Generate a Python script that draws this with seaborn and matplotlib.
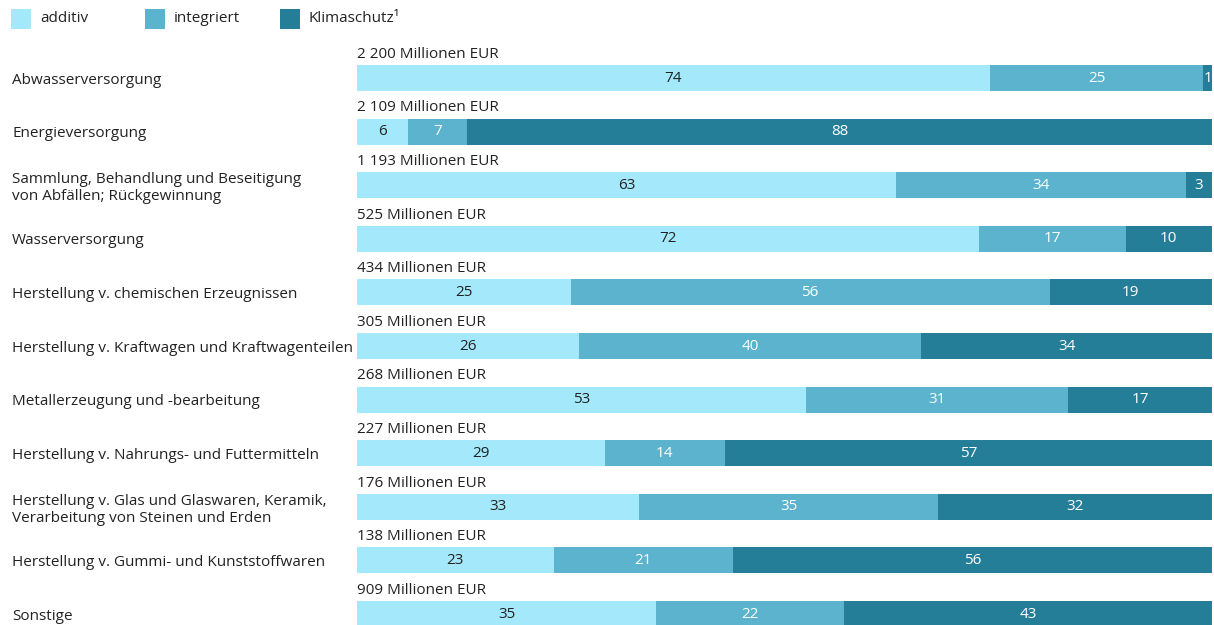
import matplotlib
matplotlib.use("Agg")
import matplotlib.pyplot as plt
import matplotlib.transforms as mtransforms
from matplotlib.patches import Rectangle
import seaborn as sns
import pandas as pd
import numpy as np

categories = [
    "Abwasserversorgung",
    "Energieversorgung",
    "Sammlung, Behandlung und Beseitigung\nvon Abfällen; Rückgewinnung",
    "Wasserversorgung",
    "Herstellung v. chemischen Erzeugnissen",
    "Herstellung v. Kraftwagen und Kraftwagenteilen",
    "Metallerzeugung und -bearbeitung",
    "Herstellung v. Nahrungs- und Futtermitteln",
    "Herstellung v. Glas und Glaswaren, Keramik,\nVerarbeitung von Steinen und Erden",
    "Herstellung v. Gummi- und Kunststoffwaren",
    "Sonstige",
]
additiv = [74, 6, 63, 72, 25, 26, 53, 29, 33, 23, 35]
integriert = [25, 7, 34, 17, 56, 40, 31, 14, 35, 21, 22]
klimaschutz = [1, 88, 3, 10, 19, 34, 17, 57, 32, 56, 43]
totals = ["2 200", "2 109", "1 193", "525", "434", "305", "268", "227", "176", "138", "909"]
series_names = ["additiv", "integriert", "Klimaschutz\u00b9"]

colors = ["#A3E9FB", "#5BB3CE", "#257E98"]
text_dark = "#222222"

sns.set_theme(style="white")
plt.rcParams["font.family"] = ["Open Sans", "DejaVu Sans"]
plt.rcParams["font.size"] = 11

df = pd.DataFrame({"cat": categories, "a": additiv, "i": integriert, "k": klimaschutz})
s = df[["a", "i", "k"]].sum(axis=1)
df["a_n"] = df["a"] / s * 100
df["i_n"] = df["i"] / s * 100
df["k_n"] = df["k"] / s * 100
df["c1"] = df["a_n"]
df["c2"] = df["a_n"] + df["i_n"]
df["c3"] = df["c2"] + df["k_n"]

W, H = 1214, 625
fig = plt.figure(figsize=(W / 100, H / 100), dpi=100)
ax = fig.add_axes([357 / W, 0, (1212 - 357) / W, 1 - 40 / H])

bw = 0.485
for col, c in zip(["c3", "c2", "c1"], colors[::-1]):
    sns.barplot(data=df, x=col, y="cat", color=c, orient="h", width=bw,
                saturation=1, ax=ax, linewidth=0)

ax.set_xlim(0, 100)
ax.set_ylim(10.205, -0.709)
ax.set_xlabel("")
ax.set_ylabel("")
ax.set_xticks([])
for sp in ax.spines.values():
    sp.set_visible(False)

ax.tick_params(axis="y", length=0, pad=345 * 72 / 100, labelsize=11, labelcolor=text_dark)
for lbl in ax.get_yticklabels():
    lbl.set_horizontalalignment("left")

for i, row in df.iterrows():
    segs = [(0, row["a_n"], row["a"], text_dark),
            (row["c1"], row["i_n"], row["i"], "white"),
            (row["c2"], row["k_n"], row["k"], "white")]
    for left, w, v, tc in segs:
        ax.text(left + w / 2, i, f"{v}", ha="center", va="center", color=tc, fontsize=11)
    ax.text(0, i - bw / 2 - 0.06, f"{totals[i]} Millionen EUR", ha="left", va="bottom",
            color=text_dark, fontsize=11)

# legend
leg_x = [11, 145, 280]
for x, name, c in zip(leg_x, series_names, colors):
    fig.add_artist(Rectangle((x / W, 1 - 29 / H), 20 / W, 20 / H, transform=fig.transFigure,
                             facecolor=c, edgecolor="none"))
    fig.text((x + 29) / W, 1 - 19 / H, name, ha="left", va="center", fontsize=11, color=text_dark)

fig.savefig("out.png", dpi=100)
